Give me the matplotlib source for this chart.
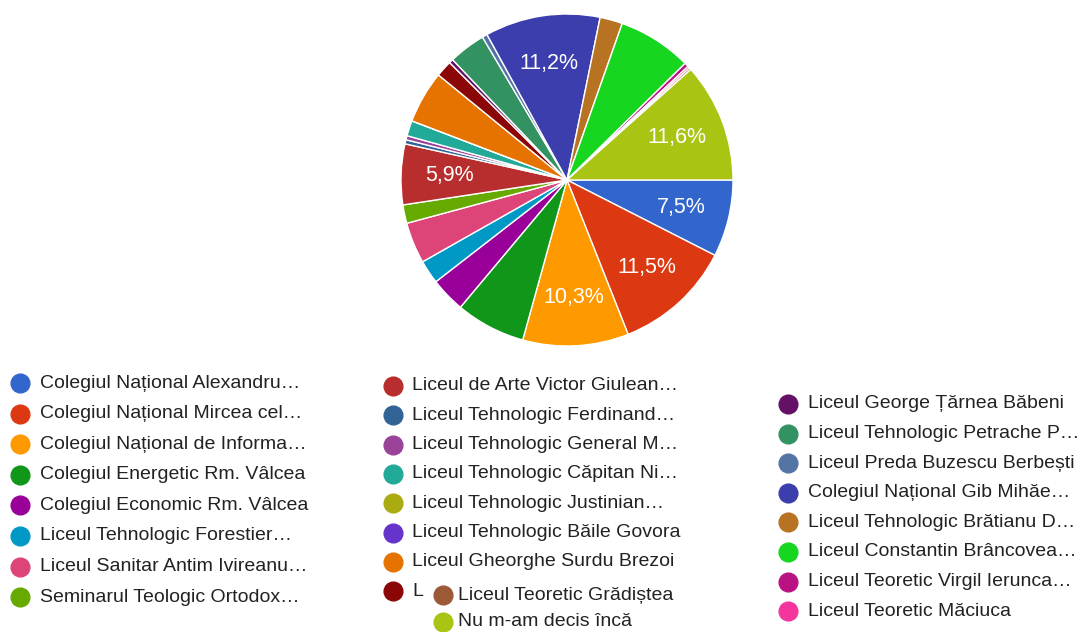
import numpy as np
import matplotlib
matplotlib.use("Agg")
import matplotlib.pyplot as plt
from matplotlib.lines import Line2D

plt.rcParams["font.family"] = ["Liberation Sans", "DejaVu Sans"]

# legend labels, in slice order (clockwise from 3 o'clock)
labels = [
    "Colegiul Național Alexandru…", "Colegiul Național Mircea cel…",
    "Colegiul Național de Informa…", "Colegiul Energetic Rm. Vâlcea",
    "Colegiul Economic Rm. Vâlcea", "Liceul Tehnologic Forestier…",
    "Liceul Sanitar Antim Ivireanu…", "Seminarul Teologic Ortodox…",
    "Liceul de Arte Victor Giulean…", "Liceul Tehnologic Ferdinand…",
    "Liceul Tehnologic General M…", "Liceul Tehnologic Căpitan Ni…",
    "Liceul Tehnologic Justinian…", "Liceul Tehnologic Băile Govora",
    "Liceul Gheorghe Surdu Brezoi", "L",
    "Liceul George Țărnea Băbeni", "Liceul Tehnologic Petrache P…",
    "Liceul Preda Buzescu Berbești", "Colegiul Național Gib Mihăe…",
    "Liceul Tehnologic Brătianu D…", "Liceul Constantin Brâncovea…",
    "Liceul Teoretic Virgil Ierunca…", "Liceul Teoretic Măciuca",
    "Liceul Teoretic Grădiștea", "Nu m-am decis încă",
]
# share of answers (%)
values = [7.5, 11.5, 10.3, 6.8, 3.4, 2.3, 4.0, 1.8, 5.9, 0.4, 0.4, 1.5, 0.0, 0.0,
          5.1, 1.6, 0.4, 3.6, 0.5, 11.2, 2.2, 7.2, 0.4, 0.2, 0.2, 11.6]
# slices that carry a percentage label
shown = [True, True, True, False, False, False, False, False, True, False, False, False,
         False, False, False, False, False, False, False, True, False, False, False,
         False, False, True]
colors = ["#3366cc", "#dc3912", "#ff9900", "#109618", "#990099", "#0099c6", "#dd4477",
          "#66aa00", "#b82e2e", "#316395", "#994499", "#22aa99", "#aaaa11", "#6633cc",
          "#e67300", "#8b0707", "#651067", "#329262", "#5574a6", "#3b3eac", "#b77322",
          "#16d620", "#b91383", "#f4359e", "#9c5935", "#a9c413"]

W, H = 1080, 632
fig = plt.figure(figsize=(W / 100, H / 100), dpi=100)
cx, cy, r = 567, 180, 166
ax = fig.add_axes([(cx - r) / W, (H - cy - r) / H, 2 * r / W, 2 * r / H])

wedges, _ = ax.pie(values, colors=colors, startangle=0, counterclock=False,
                   wedgeprops=dict(edgecolor="white", linewidth=1))
for w, v, s in zip(wedges, values, shown):
    if not s:
        continue
    mid = np.deg2rad((w.theta1 + w.theta2) / 2)
    ax.text(0.71 * np.cos(mid), 0.71 * np.sin(mid), f"{v:.1f}".replace(".", ",") + "%",
            ha="center", va="center", color="white", fontsize=15.5)
ax.set_xlim(-1, 1)
ax.set_ylim(-1, 1)
ax.axis("off")

# legend: google-style columns (x of marker, x of text, y of first row, row step)
cols = [(20, 40, 383, 30.6, range(0, 8)),
        (393, 412, 386, 29.3, range(8, 16)),
        (788, 808, 404, 29.6, range(16, 24)),
        (443, 458, 595, 27.0, range(24, 26))]
for mx, tx, y0, step, idx in cols:
    for k, i in enumerate(idx):
        y = y0 + k * step
        fig.add_artist(Line2D([mx / W], [1 - y / H], marker="o", markersize=13.5,
                              color=colors[i], linestyle="none"))
        fig.text(tx / W, 1 - y / H, labels[i], ha="left", va="center",
                 fontsize=14, color="#222222")

fig.savefig("out.png", dpi=100)
